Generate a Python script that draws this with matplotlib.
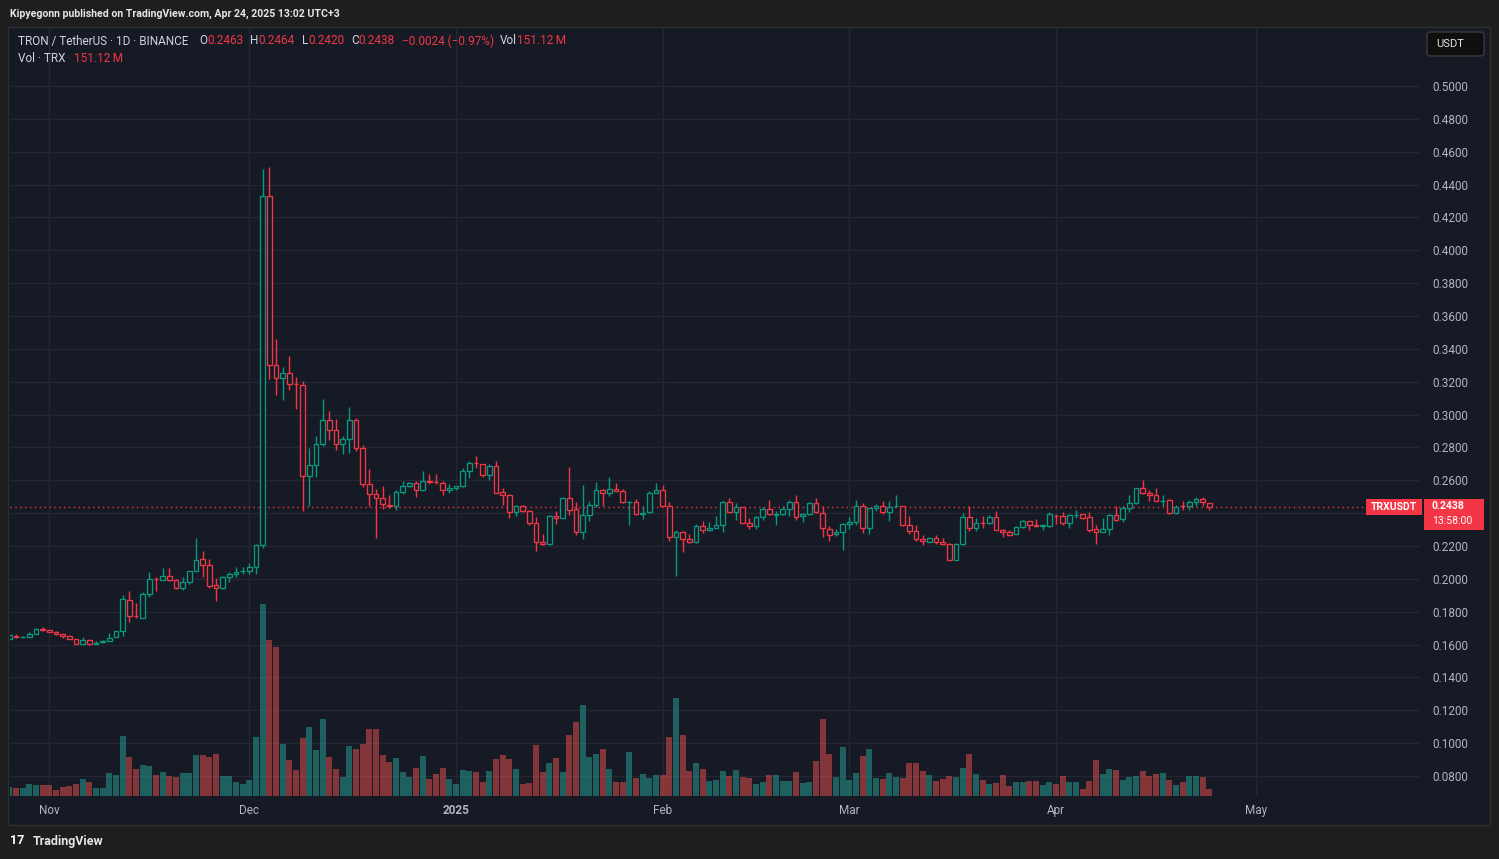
import numpy as np
import pandas as pd
import matplotlib
matplotlib.use("Agg")
import matplotlib.pyplot as plt
import matplotlib.transforms as mtransforms
from matplotlib.patches import Rectangle, FancyBboxPatch

plt.rcParams['font.family'] = ['Roboto', 'DejaVu Sans']

# ---------------- data ----------------
start_date = "2024-10-26"
end_date = "2025-04-24"

opens = [
    .1635, .1652, .1645, .1646, .1664, .1696,
    .1688, .1678, .1664, .1654, .1634, .1604, .1630, .1605, .1614, .1622, .1646, .1682, .1874, .1776, .1764,
    .1910, .1998, .1994, .2020, .1994, .1944, .1982, .2048, .2120, .2084, .1960, .1942, .2012, .2030, .2046,
    .2046, .2072, .2204, .4333, .3300, .3221, .3253, .3186, .3180, .2626, .2693, .2821, .2967, .2906, .2821,
    .2851, .2967, .2796, .2577, .2515, .2490, .2447, .2445, .2527, .2564, .2582, .2539, .2594, .2592, .2582, .2539,
    .2551, .2564, .2655, .2706, .2698, .2629, .2686, .2527, .2508, .2404, .2445, .2410, .2337, .2227, .2209,
    .2382, .2372, .2490, .2423, .2288, .2386, .2447, .2539, .2525, .2545, .2535, .2466, .2466, .2396, .2404, .2523,
    .2539, .2445, .2257, .2288, .2245, .2227, .2319, .2300, .2310, .2325, .2468, .2409, .2435, .2341, .2319,
    .2374, .2423, .2390, .2392, .2423, .2466, .2380, .2392, .2460, .2398, .2306, .2270, .2288,
    .2331, .2345, .2441, .2311, .2429, .2441, .2404, .2441, .2441, .2325, .2294, .2245, .2227, .2251, .2227,
    .2215, .2115, .2209, .2376, .2311, .2339, .2337, .2374, .2300, .2282, .2274, .2313, .2349, .2325, .2323, .2319,
    .2384, .2380, .2341, .2388, .2392, .2374, .2302, .2288, .2306, .2388, .2364, .2429, .2460, .2551, .2521,
    .2508, .2474, .2480, .2398, .2443, .2441, .2468, .2484, .2463,
]
highs = [
    .1662, .1664, .1650, .1678, .1702, .1708,
    .1690, .1684, .1666, .1660, .1636, .1648, .1636, .1624, .1630, .1670, .1684, .1904, .1924, .1852, .1918,
    .2044, .2012, .2068, .2068, .1996, .2012, .2048, .2248, .2170, .2122, .2008, .2020, .2042, .2074, .2074,
    .2098, .2215, .4497, .4504, .3462, .3292, .3359, .3229, .3206, .2798, .2871, .3097, .3024, .2975, .2867,
    .3048, .2981, .2815, .2670, .2547, .2566, .2510, .2539, .2596, .2590, .2596, .2657, .2639, .2639, .2598, .2578,
    .2568, .2674, .2716, .2747, .2700, .2698, .2716, .2551, .2519, .2449, .2449, .2421, .2374, .2272, .2386,
    .2413, .2498, .2682, .2466, .2572, .2474, .2590, .2545, .2621, .2584, .2545, .2476, .2484, .2441, .2533, .2584,
    .2572, .2466, .2300, .2290, .2270, .2331, .2351, .2343, .2380, .2474, .2492, .2459, .2437, .2368, .2382,
    .2439, .2480, .2413, .2441, .2480, .2511, .2400, .2468, .2492, .2441, .2321, .2302, .2339,
    .2376, .2480, .2462, .2431, .2453, .2474, .2474, .2511, .2443, .2382, .2327, .2266, .2257, .2266, .2251,
    .2217, .2221, .2400, .2441, .2368, .2382, .2386, .2413, .2302, .2296, .2319, .2359, .2351, .2364, .2335, .2409,
    .2392, .2406, .2388, .2417, .2394, .2406, .2325, .2370, .2394, .2441, .2441, .2511, .2553, .2602, .2539,
    .2553, .2511, .2486, .2451, .2474, .2480, .2498, .2498, .2464,
]
lows = [
    .1630, .1642, .1640, .1644, .1662, .1684,
    .1674, .1660, .1640, .1632, .1602, .1602, .1600, .1602, .1610, .1620, .1644, .1652, .1740, .1764, .1762,
    .1890, .1926, .1994, .1986, .1940, .1932, .1970, .2046, .2010, .1942, .1866, .1936, .1980, .2010, .2028,
    .2030, .2032, .2190, .3219, .3121, .3087, .3152, .3032, .2411, .2441, .2618, .2807, .2843, .2782, .2758,
    .2764, .2776, .2560, .2441, .2251, .2425, .2429, .2421, .2515, .2562, .2500, .2537, .2578, .2576, .2513, .2521,
    .2539, .2562, .2615, .2674, .2619, .2604, .2523, .2451, .2372, .2380, .2408, .2325, .2170, .2205, .2207,
    .2335, .2370, .2390, .2268, .2245, .2355, .2439, .2445, .2506, .2535, .2464, .2329, .2390, .2365, .2398, .2521,
    .2441, .2231, .2017, .2164, .2217, .2221, .2280, .2292, .2308, .2286, .2407, .2360, .2339, .2302, .2302,
    .2360, .2390, .2329, .2388, .2384, .2360, .2347, .2386, .2402, .2255, .2231, .2262, .2176,
    .2302, .2329, .2280, .2274, .2411, .2394, .2353, .2439, .2323, .2274, .2231, .2207, .2225, .2215, .2209,
    .2113, .2113, .2207, .2292, .2292, .2311, .2335, .2296, .2255, .2262, .2272, .2311, .2298, .2317, .2298, .2317,
    .2335, .2329, .2308, .2370, .2366, .2286, .2213, .2286, .2268, .2353, .2347, .2406, .2458, .2519, .2476,
    .2474, .2441, .2396, .2396, .2421, .2417, .2441, .2441, .2420,
]
closes = [
    .1660, .1646, .1648, .1664, .1694, .1686,
    .1676, .1664, .1652, .1634, .1604, .1630, .1604, .1612, .1622, .1642, .1682, .1876, .1772, .1772, .1910,
    .2000, .1996, .2020, .1992, .1944, .1982, .2048, .2114, .2084, .1956, .1944, .2012, .2030, .2044, .2048,
    .2072, .2204, .4333, .3300, .3221, .3253, .3184, .3184, .2626, .2693, .2821, .2967, .2906, .2821, .2851,
    .2967, .2796, .2577, .2515, .2490, .2453, .2445, .2527, .2564, .2582, .2539, .2594, .2590, .2588, .2539, .2551,
    .2564, .2655, .2704, .2704, .2629, .2686, .2525, .2508, .2404, .2445, .2410, .2337, .2227, .2209, .2380,
    .2372, .2490, .2421, .2288, .2386, .2447, .2539, .2525, .2545, .2537, .2466, .2468, .2396, .2400, .2523, .2539,
    .2445, .2257, .2288, .2245, .2227, .2319, .2300, .2310, .2325, .2468, .2409, .2435, .2341, .2319, .2374,
    .2423, .2392, .2392, .2423, .2466, .2378, .2392, .2462, .2404, .2311, .2268, .2282, .2331,
    .2345, .2441, .2311, .2429, .2441, .2404, .2435, .2443, .2325, .2294, .2245, .2229, .2251, .2227, .2213,
    .2115, .2209, .2376, .2311, .2337, .2337, .2374, .2298, .2282, .2268, .2313, .2351, .2325, .2319, .2325, .2394,
    .2382, .2341, .2386, .2390, .2372, .2298, .2288, .2306, .2388, .2360, .2429, .2462, .2551, .2521, .2508,
    .2476, .2476, .2398, .2439, .2441, .2468, .2484, .2466, .2438,
]
volumes_m = [
    194, 173, 173, 259, 238, 238,
    238, 130, 194, 216, 259, 367, 302, 173, 173, 497, 454, 1296, 842, 583, 670,
    648, 454, 518, 432, 410, 497, 497, 886, 886, 842, 907, 432, 432, 302, 259,
    346, 1274, 4147, 3370, 3218, 1123, 778, 562, 1253, 1490, 994, 1663, 842, 583, 410,
    1080, 1015, 1123, 1447, 1447, 886, 734, 821, 518, 410, 605, 864, 367, 475, 605, 367,
    259, 562, 540, 518, 302, 540, 799, 886, 799, 583, 259, 281, 1102, 518, 713,
    821, 518, 1318, 1598, 1966, 842, 907, 1015, 583, 302, 302, 950, 389, 475, 389, 454,
    454, 1274, 2117, 1318, 540, 713, 583, 324, 346, 540, 432, 562, 410, 389, 259,
    302, 454, 454, 324, 324, 518, 281, 302, 756, 1663, 907, 410, 1058,
    346, 497, 864, 1015, 389, 367, 497, 410, 389, 713, 713, 540, 454, 324, 367,
    432, 410, 605, 907, 475, 346, 259, 281, 454, 216, 302, 302, 324, 324, 238, 302,
    259, 432, 302, 302, 151, 324, 778, 475, 583, 562, 346, 410, 432, 540, 432,
    475, 497, 346, 238, 302, 432, 432, 410, 151,
]

month_starts = ["2024-11-01", "2024-12-01", "2025-01-01", "2025-02-01",
                "2025-03-01", "2025-04-01", "2025-05-01"]
month_labels = ["Nov", "Dec", "2025", "Feb", "Mar", "Apr", "May"]
price_ticks = [0.08, 0.10, 0.12, 0.14, 0.16, 0.18, 0.20, 0.22, 0.24, 0.26, 0.28,
               0.30, 0.32, 0.34, 0.36, 0.38, 0.40, 0.42, 0.44, 0.46, 0.48, 0.50]

# ---------------- styling ----------------
W, H = 1499, 859
BG = "#161a25"
OUTER = "#1e1e1e"
GRID = "#232733"
UP = "#089981"
DOWN = "#f23645"
VUP = (38/255, 166/255, 154/255, 0.5)
VDOWN = (239/255, 83/255, 80/255, 0.5)
AXTXT = "#b2b5be"
LEGTXT = "#d1d4dc"

def fx(x):
    return x / W

def fy(y):
    return 1 - y / H

ref = pd.Timestamp("2024-11-01")
dates = pd.date_range(start_date, end_date, freq="D")
x = np.array((dates - ref).days, dtype=float)
o = np.array(opens); h = np.array(highs); l = np.array(lows); c = np.array(closes)
v = np.array(volumes_m, dtype=float)
up = c >= o
cols = [UP if u else DOWN for u in up]
vcols = [VUP if u else VDOWN for u in up]
mx = np.array((pd.to_datetime(month_starts) - ref).days, dtype=float)

fig = plt.figure(figsize=(W / 100, H / 100), dpi=100, facecolor=OUTER)

# chart panel
fig.add_artist(Rectangle((fx(8), fy(825)), fx(1490) - fx(8), fy(27) - fy(825),
                         transform=fig.transFigure, fc=BG, ec="#2e2e2e", lw=1, zorder=-1))

ax = fig.add_axes([fx(10), fy(796), (1420 - 10) / W, (796 - 28) / H])
ax.set_facecolor(BG)
for s in ax.spines.values():
    s.set_visible(False)

ax.set_xlim(-5.9, 205.6)
ax.set_ylim(0.0678, 0.5353)

ax.grid(True, color=GRID, lw=1)
ax.set_axisbelow(True)

# volume (max bar fills the bottom 25% of the pane)
vol_top = v.max() / 0.25
vtrans = mtransforms.blended_transform_factory(
    ax.transData, mtransforms.Affine2D().scale(1, 1 / vol_top) + ax.transAxes)
ax.bar(x, v, width=0.88, color=vcols, transform=vtrans, zorder=1, linewidth=0)

# candles (hollow)
ax.vlines(x, l, h, colors=cols, lw=1.0, zorder=2)
ax.bar(x, np.abs(c - o), bottom=np.minimum(o, c), width=0.68, color=BG,
       edgecolor=cols, linewidth=0.95, zorder=3)

ax.axhline(c[-1], color=DOWN, lw=1, ls=(0, (1, 2.5)), zorder=2.5)

ax.set_xlim(-5.9, 205.6)
ax.set_ylim(0.0678, 0.5353)

# last price box extent (pixels from top)
ypix = H - ax.transData.transform((0, c[-1]))[1]
box_top, box_bot = ypix - 8, ypix + 23

# axes ticks (labels hidden behind the last-price box are left blank)
ax.yaxis.tick_right()
ax.set_yticks(price_ticks)
ylabels = []
for t in price_ticks:
    tp = H - ax.transData.transform((0, t))[1]
    ylabels.append("" if box_top - 6 <= tp <= box_bot + 6 else f"{t:.4f}")
ax.set_yticklabels(ylabels)
ax.tick_params(axis="y", length=0, pad=8.6, labelsize=8.5, labelcolor=AXTXT)
ax.set_xticks(mx)
ax.set_xticklabels(month_labels)
ax.tick_params(axis="x", length=0, pad=6, labelsize=8.5, labelcolor=AXTXT)
ax.get_xticklabels()[2].set_fontweight("bold")

# ---------------- texts ----------------
fig.text(fx(10), fy(14), "Kipyegonn published on TradingView.com, Apr 24, 2025 13:02 UTC+3",
         color="#e6e6e6", fontsize=7.6, fontweight="bold", va="center", ha="left")

legend_items = [
    (18, "TRON / TetherUS · 1D · BINANCE", LEGTXT),
    (199, "O", LEGTXT), (207, f"{o[-1]:.4f}", DOWN),
    (250, "H", LEGTXT), (258, f"{h[-1]:.4f}", DOWN),
    (302, "L", LEGTXT), (308, f"{l[-1]:.4f}", DOWN),
    (351, "C", LEGTXT), (358, f"{c[-1]:.4f}", DOWN),
    (402, "\u22120.0024 (\u22120.97%)", DOWN),
    (500, "Vol", LEGTXT), (517, "151.12\u2009M", DOWN),
]
for xx, t, col in legend_items:
    fig.text(fx(xx), fy(41), t, color=col, fontsize=8.5, va="center", ha="left")
fig.text(fx(18), fy(58), "Vol · TRX", color=LEGTXT, fontsize=8.5, va="center", ha="left")
fig.text(fx(74), fy(58), "151.12\u2009M", color=DOWN, fontsize=8.5, va="center", ha="left")

# USDT box
fig.add_artist(FancyBboxPatch((fx(1427), fy(56)), fx(1484) - fx(1427), fy(32) - fy(56),
                              boxstyle="round,pad=0,rounding_size=0.003",
                              transform=fig.transFigure, fc="#0f0f0f", ec="#3a3a3a",
                              lw=1, zorder=5))
fig.text(fx(1436), fy(44), "USDT", color="#e6e6e6", fontsize=8, va="center", ha="left", zorder=6)

# last price labels
fig.add_artist(Rectangle((fx(1366), fy(ypix + 8)), fx(1422) - fx(1366), fy(ypix - 8) - fy(ypix + 8),
                         transform=fig.transFigure, fc=DOWN, ec="none", zorder=5))
fig.text(fx(1394), fy(ypix), "TRXUSDT", color="white", fontsize=7.5, fontweight="bold",
         va="center", ha="center", zorder=6)
fig.add_artist(Rectangle((fx(1424), fy(box_bot)), fx(1484) - fx(1424), fy(box_top) - fy(box_bot),
                         transform=fig.transFigure, fc=DOWN, ec="none", zorder=5))
fig.text(fx(1432), fy(ypix - 1), f"{c[-1]:.4f}", color="white", fontsize=7.5, fontweight="bold",
         va="center", ha="left", zorder=6)
fig.text(fx(1432), fy(ypix + 14), "13:58:00", color="white", fontsize=7.5,
         va="center", ha="left", zorder=6)

# footer
fig.text(fx(10), fy(841), "17", color="white", fontsize=9, fontweight="bold", va="center", ha="left")
fig.text(fx(33), fy(841), "TradingView", color="#e6e6e6", fontsize=9, fontweight="bold",
         va="center", ha="left")

fig.savefig("out.png", dpi=100, facecolor=OUTER)
